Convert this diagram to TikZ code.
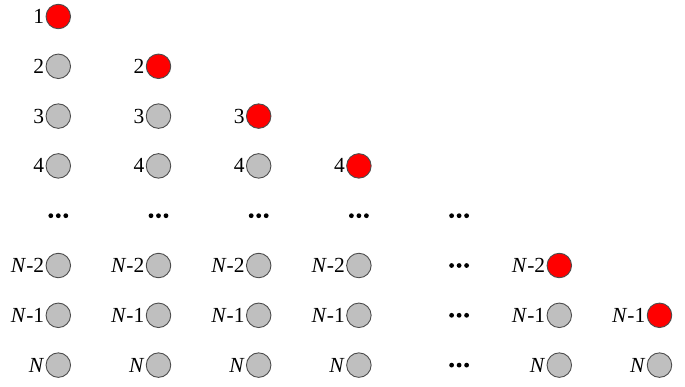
\documentclass[tikz,border=0pt]{standalone}
\usepackage{fontspec}
\setmainfont{Liberation Serif}
\usetikzlibrary{positioning}

\newcommand{\rowdots}[1]{\foreach \k in {-1,0,1} \fill ([xshift=\k*7.5pt]#1) circle (2.4);}

\begin{document}
\begin{tikzpicture}[
  x=1pt, y=-1pt,
  font=\fontsize{21.5}{25}\selectfont,
  ball/.style={circle, draw=black!70, line width=0.9pt, fill=black!25, minimum size=24.5pt, inner sep=0pt},
  hit/.style={ball, fill=red},
  num/.style={inner sep=1.2pt},
]
\useasboundingbox (0,0) rectangle (685,386);
% first four columns: one red ball each, grey below it
\foreach \c in {1,...,4}{
  \node[hit, label={[num]left:\c}] (b-\c-\c) at ({58.3+100.2*(\c-1)},{16.5+49.8*(\c-1)}) {};
  \foreach \r in {1,...,4}{
    \ifnum\r>\c
      \node[ball, label={[num]left:\r}] (b-\c-\r) at ({58.3+100.2*(\c-1)},{16.5+49.8*(\r-1)}) {};
    \fi
  }
  \coordinate (d-\c-5) at ({58.3+100.2*(\c-1)},{16.5+49.8*4});
  \rowdots{d-\c-5}
  \foreach \r/\t in {6/{\textit{N}-2},7/{\textit{N}-1},8/{\textit{N}}}
    \node[ball, label={[num]left:\t}] (b-\c-\r) at ({58.3+100.2*(\c-1)},{16.5+49.8*(\r-1)}) {};
}
% middle column of dots
\foreach \r in {5,...,8}{
  \coordinate (d-5-\r) at ({58.3+100.2*4},{16.5+49.8*(\r-1)});
  \rowdots{d-5-\r}
}
% last two columns
\node[hit, label={[num]left:\textit{N}-2}] (b-6-6) at ({58.3+100.2*5},{16.5+49.8*5}) {};
\node[ball, label={[num]left:\textit{N}-1}] (b-6-7) at ({58.3+100.2*5},{16.5+49.8*6}) {};
\node[ball, label={[num]left:\textit{N}}] (b-6-8) at ({58.3+100.2*5},{16.5+49.8*7}) {};
\node[hit, label={[num]left:\textit{N}-1}] (b-7-7) at ({58.3+100.2*6},{16.5+49.8*6}) {};
\node[ball, label={[num]left:\textit{N}}] (b-7-8) at ({58.3+100.2*6},{16.5+49.8*7}) {};
\end{tikzpicture}
\end{document}
